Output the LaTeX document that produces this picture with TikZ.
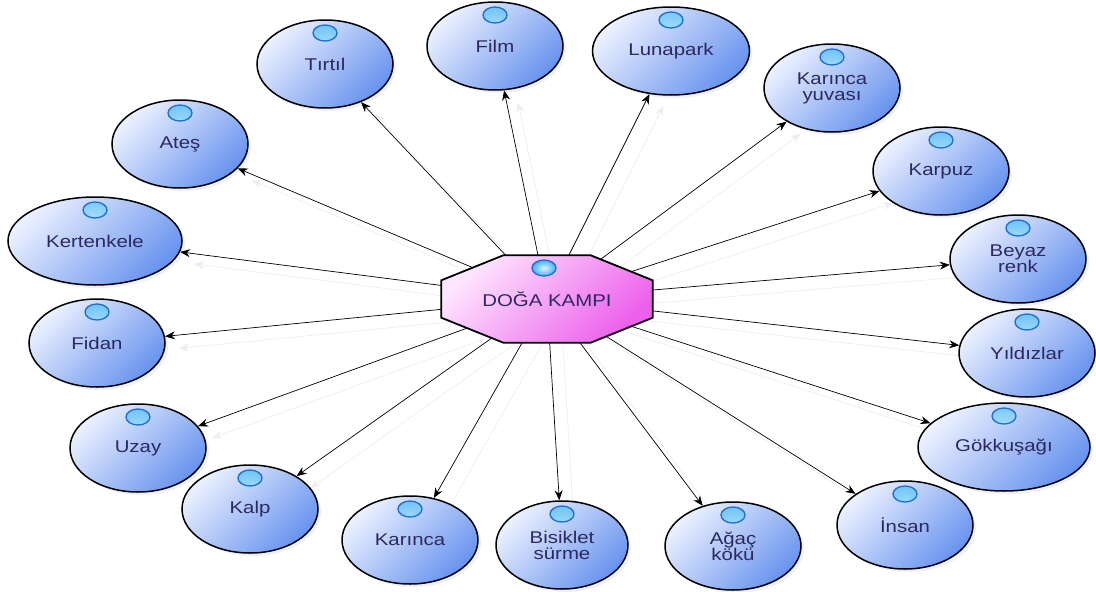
\documentclass[tikz,border=0pt]{standalone}
\usepackage{fontspec}
\newfontfamily\bubblefont{Liberation Sans}[FakeStretch=1.2]
\usetikzlibrary{positioning, shapes.geometric, arrows.meta, shadows, calc}

\definecolor{leafLight}{RGB}{236,241,255}
\definecolor{leafDark}{RGB}{104,148,238}
\definecolor{campLight}{RGB}{254,230,254}
\definecolor{campDark}{RGB}{236,96,236}
\definecolor{ink}{RGB}{45,40,95}
\definecolor{knobCore}{RGB}{215,245,255}
\definecolor{knob}{RGB}{70,175,240}
\definecolor{knobRing}{RGB}{30,110,205}

\pgfdeclarelayer{links}
\pgfdeclarelayer{background}
\pgfsetlayers{links,background,main}

\tikzset{
  knobball/.style={inner color=knobCore, outer color=knob, draw=knobRing, line width=1.3pt},
  leaf/.style={ellipse, draw=black, line width=1.5pt, minimum width=136pt, minimum height=88pt,
    inner sep=0pt, align=center, text=ink, font=\bubblefont\fontsize{17}{16}\selectfont,
    top color=leafLight, bottom color=leafDark, shading angle=45,
    drop shadow={shadow xshift=3pt, shadow yshift=-3pt, opacity=0.12},
    path picture={\shade[knobball] ($(path picture bounding box.center)+(0pt,31pt)$)
      ellipse [x radius=12pt, y radius=8pt];}},
  camp/.style={rectangle, minimum width=211pt, minimum height=87pt, inner sep=0pt,
    text=ink, font=\bubblefont\fontsize{17}{16}\selectfont},
  octagon/.style={draw=black, line width=1.8pt, top color=campLight, bottom color=campDark, shading angle=45},
  link/.style={draw=black, line width=0.7pt, -{Stealth[length=10pt, width=8pt]}},
  ghost/.style={link, draw=black!7, transform canvas={shift={(14pt,-12pt)}}}
}

\begin{document}
\begin{tikzpicture}[x=1pt, y=-1pt]
\useasboundingbox (0,0) rectangle (1096,592);

\node[camp] (camp) at (547,299) {DOĞA KAMPI};

\node[leaf] (tirtil) at (325,64) {Tırtıl};
\node[leaf] (film) at (495,46) {Film};
\node[leaf, minimum width=157pt] (lunapark) at (671,51) {Lunapark};
\node[leaf] (yuva) at (832,88) {Karınca\\yuvası};
\node[leaf] (karpuz) at (941,171) {Karpuz};
\node[leaf] (beyaz) at (1018,259) {Beyaz\\renk};
\node[leaf] (yildiz) at (1027,353) {Yıldızlar};
\node[leaf, minimum width=172pt] (gokkusagi) at (1004,447) {Gökkuşağı};
\node[leaf] (insan) at (905,525) {İnsan};
\node[leaf] (agac) at (733,546) {Ağaç\\kökü};
\node[leaf, minimum width=132pt] (bisiklet) at (562,545) {Bisiklet\\sürme};
\node[leaf] (karinca) at (410,540) {Karınca};
\node[leaf] (kalp) at (250,509) {Kalp};
\node[leaf] (uzay) at (138,448) {Uzay};
\node[leaf] (fidan) at (97,343) {Fidan};
\node[leaf, minimum width=174pt] (kertenkele) at (95,241) {Kertenkele};
\node[leaf] (ates) at (180,144) {Ateş};

% the octagon behind the title
\begin{pgfonlayer}{background}
  \draw[octagon] ($(camp.north west)+(62pt,0)$) -- ($(camp.north east)+(-62pt,0)$)
    -- ($(camp.north east)+(0,-25pt)$) -- ($(camp.south east)+(0,25pt)$)
    -- ($(camp.south east)+(-62pt,0)$) -- ($(camp.south west)+(62pt,0)$)
    -- ($(camp.south west)+(0,25pt)$) -- ($(camp.north west)+(0,-25pt)$) -- cycle;
  \shade[knobball] ($(camp.center)+(-3pt,31pt)$) ellipse [x radius=12pt, y radius=8pt];
\end{pgfonlayer}

% faint copies first, then the arrows
\begin{pgfonlayer}{links}
  \draw[ghost] (camp.center) -- (tirtil);
  \draw[ghost] (camp.center) -- (film);
  \draw[ghost] (camp.center) -- (lunapark);
  \draw[ghost] (camp.center) -- (yuva);
  \draw[ghost] (camp.center) -- (karpuz);
  \draw[ghost] (camp.center) -- (beyaz);
  \draw[ghost] (camp.center) -- (yildiz);
  \draw[ghost] (camp.center) -- (gokkusagi);
  \draw[ghost] (camp.center) -- (insan);
  \draw[ghost] (camp.center) -- (agac);
  \draw[ghost] (camp.center) -- (bisiklet);
  \draw[ghost] (camp.center) -- (karinca);
  \draw[ghost] (camp.center) -- (kalp);
  \draw[ghost] (camp.center) -- (uzay);
  \draw[ghost] (camp.center) -- (fidan);
  \draw[ghost] (camp.center) -- (kertenkele);
  \draw[ghost] (camp.center) -- (ates);

  \draw[link] (camp.center) -- (tirtil);
  \draw[link] (camp.center) -- (film);
  \draw[link] (camp.center) -- (lunapark);
  \draw[link] (camp.center) -- (yuva);
  \draw[link] (camp.center) -- (karpuz);
  \draw[link] (camp.center) -- (beyaz);
  \draw[link] (camp.center) -- (yildiz);
  \draw[link] (camp.center) -- (gokkusagi);
  \draw[link] (camp.center) -- (insan);
  \draw[link] (camp.center) -- (agac);
  \draw[link] (camp.center) -- (bisiklet);
  \draw[link] (camp.center) -- (karinca);
  \draw[link] (camp.center) -- (kalp);
  \draw[link] (camp.center) -- (uzay);
  \draw[link] (camp.center) -- (fidan);
  \draw[link] (camp.center) -- (kertenkele);
  \draw[link] (camp.center) -- (ates);
\end{pgfonlayer}
\end{tikzpicture}
\end{document}
